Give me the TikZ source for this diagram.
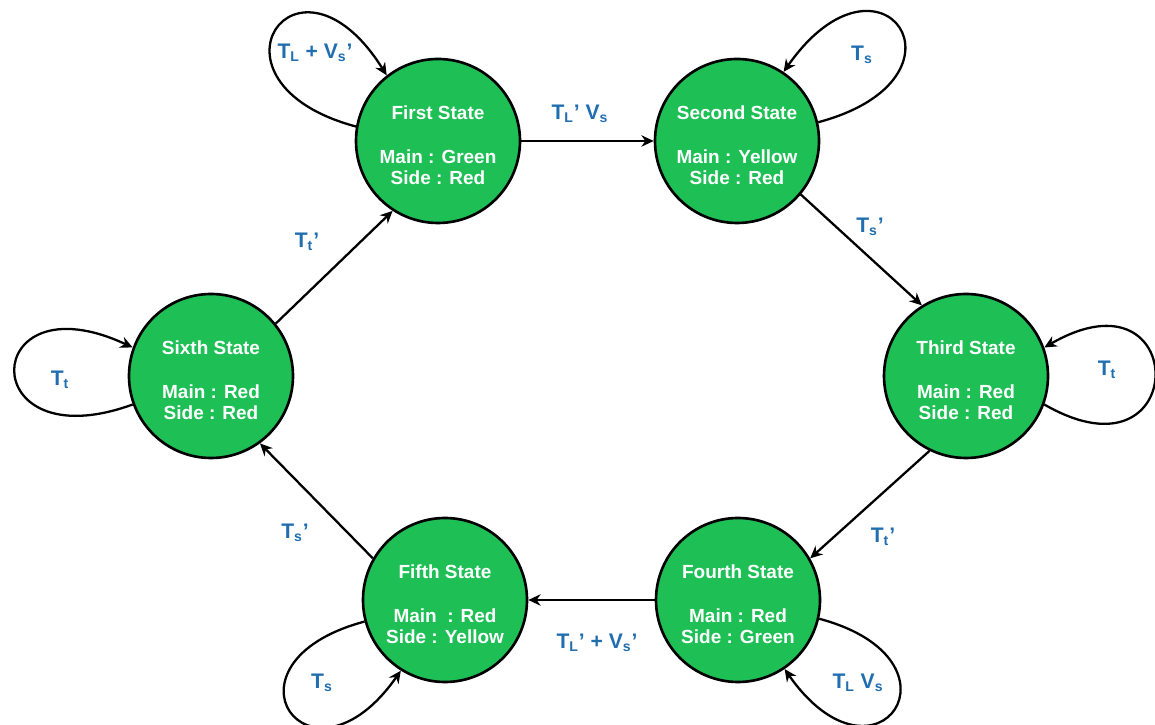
\documentclass[tikz,border=0pt]{standalone}
\usepackage{fontspec}
\setmainfont{Liberation Sans}
\usetikzlibrary{arrows.meta}
\definecolor{stategreen}{RGB}{30,192,86}
\definecolor{labelblue}{RGB}{32,110,176}
\tikzset{
  state/.style={circle,draw=black,line width=1.5pt,fill=stategreen,
    minimum size=3.28cm,inner sep=0pt,text=white,align=center,
    font=\fontsize{10.8}{12}\selectfont\bfseries},
  trans/.style={-{Stealth[length=7pt,width=6.5pt]},line width=1.3pt},
  translabel/.style={text=labelblue,font=\fontsize{12}{14}\selectfont\bfseries}
}

\begin{document}
\begin{tikzpicture}[x=1cm,y=1cm]
  \useasboundingbox (0,0) rectangle (23.1,14.5);

  % The six states of the controller, clockwise from the top left.
  \foreach \name/\x/\y/\title/\main/\side in {
      first/8.76/11.68/First State/Main : Green/Side : Red,
      second/14.74/11.68/Second State/Main : Yellow/Side : Red,
      third/19.32/6.98/Third State/Main : Red/Side : Red,
      fourth/14.76/2.50/Fourth State/Main : Red/Side : Green,
      fifth/8.90/2.50/Fifth State/Main\ \ : Red/Side : Yellow,
      sixth/4.22/6.98/Sixth State/Main : Red/Side : Red} {
    \node[state] (\name) at (\x,\y)
      {\rule{0pt}{13pt}\title\\[13pt]\main\\\side};
  }

  % Transitions around the ring.
  \foreach \a/\b in {first/second, second.-40/third.122,
      third.244/fourth.30, fourth/fifth, fifth.150/sixth.-54,
      sixth.39/first.237} {
    \draw[trans] (\a) -- (\b);
  }

  % Self-loops: state/start anchor/end anchor/out/in/distance.
  \foreach \s/\a/\b/\o/\i/\d in {
      first/170/128/165/122/3.4,
      second/13/56/15/55/3.4,
      third/-20/20/-30/30/3.4,
      fourth/-13/-56/-15/-55/3.2,
      fifth/195/238/195/235/3.2,
      sixth/200/160/200/155/3.4} {
    \draw[trans] (\s.\a) to[out=\o,in=\i,distance=\d cm] (\s.\b);
  }

  % Transition conditions.
  \foreach \name/\x/\y/\txt in {
      lab12/11.60/12.22/{T\textsubscript{L}' V\textsubscript{s}},
      lab23/17.40/9.96/{T\textsubscript{s}'},
      lab34/17.66/3.76/{T\textsubscript{t}'},
      lab45/11.94/1.64/{T\textsubscript{L}' + V\textsubscript{s}'},
      lab56/5.90/3.84/{T\textsubscript{s}'},
      lab61/6.14/9.66/{T\textsubscript{t}'},
      lab11/6.30/13.44/{T\textsubscript{L} + V\textsubscript{s}'},
      lab22/17.24/13.40/{T\textsubscript{s}},
      lab33/22.14/7.10/{T\textsubscript{t}},
      lab44/17.16/0.84/{T\textsubscript{L} V\textsubscript{s}},
      lab55/6.44/0.84/{T\textsubscript{s}},
      lab66/1.20/6.90/{T\textsubscript{t}}} {
    \node[translabel] (\name) at (\x,\y) {\txt};
  }
\end{tikzpicture}
\end{document}
